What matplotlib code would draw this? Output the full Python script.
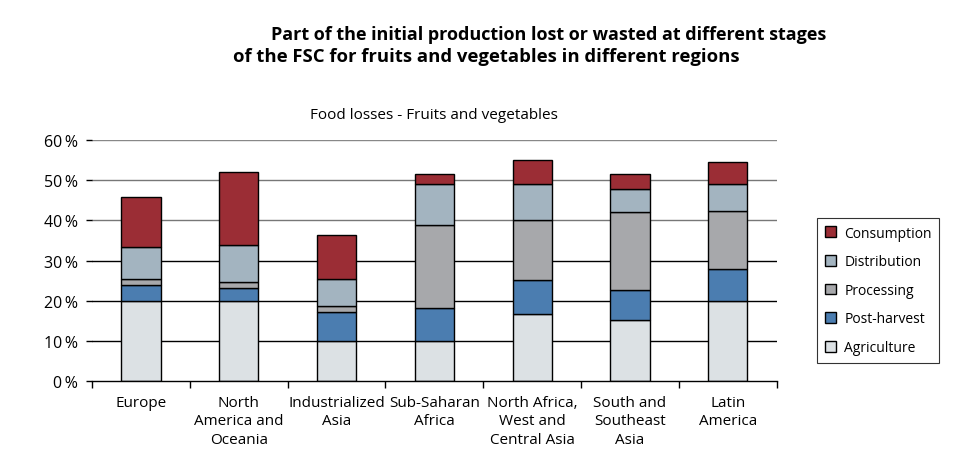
import numpy as np
import matplotlib.pyplot as plt

plt.rcParams['font.family'] = ['Open Sans', 'DejaVu Sans']

# regions and losses (%) per stage of the food supply chain
regions = ['Europe', 'North\nAmerica and\nOceania', 'Industrialized\nAsia', 'Sub-Saharan\nAfrica',
           'North Africa,\nWest and\nCentral Asia', 'South and\nSoutheast\nAsia', 'Latin\nAmerica']
agriculture = [20.0, 20.0, 10.0, 10.0, 16.8, 15.1, 20.0]
post_harvest = [4.0, 3.3, 7.3, 8.1, 8.5, 7.6, 8.0]
processing = [1.5, 1.3, 1.5, 20.7, 14.9, 19.3, 14.3]
distribution = [7.8, 9.4, 6.6, 10.2, 9.0, 5.9, 6.9]
consumption = [12.5, 18.2, 11.0, 2.7, 5.9, 3.8, 5.4]

stages = ['Agriculture', 'Post-harvest', 'Processing', 'Distribution', 'Consumption']
series = [agriculture, post_harvest, processing, distribution, consumption]
colors = ['#dce1e4', '#4b7db0', '#a7a8ab', '#a3b4c0', '#9b2d35']

fig = plt.figure(figsize=(9.74, 4.77), dpi=100)
ax = fig.add_axes([0.0945, 0.199, 0.703, 0.505])

x = np.arange(len(regions))
# grid lines first, bars on top
for v, c in zip([10, 20, 30, 40, 50, 60], ['black', 'black', 'black', '#777777', '#777777', '#888888']):
    ax.axhline(v, color=c, lw=1.0, zorder=0)

bottom = np.zeros(len(regions))
handles = []
for vals, col, name in zip(series, colors, stages):
    b = ax.bar(x, vals, bottom=bottom, width=0.4, color=col, edgecolor='black', linewidth=1.0,
               label=name, zorder=2)
    handles.append(b)
    bottom += np.array(vals)

ax.set_xlim(-0.5, len(regions) - 0.5)
ax.set_ylim(0, 60)
for s in ['left', 'right', 'top']:
    ax.spines[s].set_visible(False)
ax.spines['bottom'].set_linewidth(1.0)

ax.set_xticks(np.arange(-0.5, len(regions)), minor=False)
ax.set_xticklabels([])
ax.set_xticks(x, minor=True)
ax.set_xticklabels(regions, minor=True, fontsize=11, linespacing=1.3)
ax.tick_params(axis='x', which='major', direction='out', length=5, width=1.0)
ax.tick_params(axis='x', which='minor', length=0, pad=10)

ax.set_yticks([0, 10, 20, 30, 40, 50, 60])
ax.set_yticklabels(['%d\u2009%%' % v for v in [0, 10, 20, 30, 40, 50, 60]], fontsize=11.5)
ax.tick_params(axis='y', direction='out', length=4, width=1.0, pad=6)

ax.set_title('Food losses - Fruits and vegetables', fontsize=11, pad=16)

leg = fig.legend(handles[::-1], stages[::-1], loc='upper left', bbox_to_anchor=(0.839, 0.541),
                 borderaxespad=0, fontsize=10, frameon=True, fancybox=False, edgecolor='black',
                 handlelength=0.8, handleheight=0.8, labelspacing=0.98, borderpad=0.55,
                 handletextpad=0.6)
leg.get_frame().set_linewidth(0.8)

fig.text(0.278, 0.927, 'Part of the initial production lost or wasted at different stages',
         fontsize=13, fontweight='bold', ha='left', va='center')
fig.text(0.239, 0.880, 'of the FSC for fruits and vegetables in different regions',
         fontsize=13.3, fontweight='bold', ha='left', va='center')

fig.savefig('out.png', dpi=100)
